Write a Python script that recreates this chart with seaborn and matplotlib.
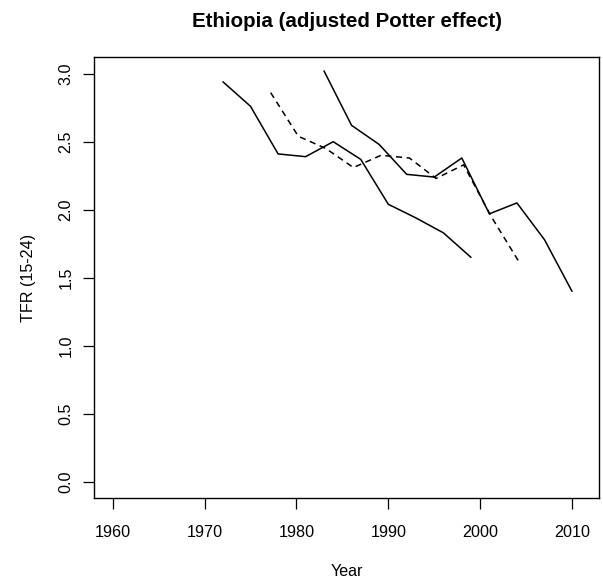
import matplotlib
matplotlib.use('Agg')
import matplotlib.pyplot as plt
import seaborn as sns
import pandas as pd

# Values
years_a = [1972, 1975, 1978, 1981, 1984, 1987, 1990, 1993, 1996, 1999]
tfr_a = [2.94, 2.76, 2.41, 2.39, 2.50, 2.37, 2.04, 1.94, 1.83, 1.65]

years_b = [1983, 1986, 1989, 1992, 1995, 1998, 2001, 2004, 2007, 2010]
tfr_b = [3.02, 2.62, 2.48, 2.26, 2.24, 2.38, 1.97, 2.05, 1.78, 1.40]

years_adj = [1977.2, 1980.2, 1983.2, 1986.2, 1989.2, 1992.3, 1995.2, 1998.2, 2001.2, 2004.2]
tfr_adj = [2.86, 2.54, 2.45, 2.31, 2.40, 2.38, 2.23, 2.33, 1.95, 1.62]

x_ticks = [1960, 1970, 1980, 1990, 2000, 2010]
y_ticks = [0.0, 0.5, 1.0, 1.5, 2.0, 2.5, 3.0]

df_a = pd.DataFrame({'year': years_a, 'tfr': tfr_a})
df_b = pd.DataFrame({'year': years_b, 'tfr': tfr_b})
df_adj = pd.DataFrame({'year': years_adj, 'tfr': tfr_adj})

sns.set_style('white')
plt.rcParams['font.family'] = ['Liberation Sans', 'DejaVu Sans']
plt.rcParams['text.color'] = 'black'
plt.rcParams['axes.labelcolor'] = 'black'
plt.rcParams['xtick.color'] = 'black'
plt.rcParams['ytick.color'] = 'black'

fig = plt.figure(figsize=(6.03, 5.86), dpi=100)
ax = fig.add_axes([0.1554, 0.1502, 0.8385, 0.752])

sns.lineplot(data=df_a, x='year', y='tfr', color='black', linewidth=1.1, ax=ax)
sns.lineplot(data=df_b, x='year', y='tfr', color='black', linewidth=1.1, ax=ax)
sns.lineplot(data=df_adj, x='year', y='tfr', color='black', linewidth=1.1,
             linestyle=(0, (4, 3)), ax=ax)

ax.set_xlim(1957.93, 2012.97)
ax.set_ylim(-0.118, 3.12)
ax.set_xticks(x_ticks)
ax.set_xticklabels([str(t) for t in x_ticks])
ax.set_yticks(y_ticks)
ax.set_yticklabels([f'{t:.1f}' for t in y_ticks], rotation=90, va='center')

ax.tick_params(axis='both', direction='out', length=7.7, width=0.9,
               color='black', labelsize=11.6, labelcolor='black',
               left=True, bottom=True)
ax.tick_params(axis='x', pad=12)
ax.tick_params(axis='y', pad=7)
for s in ax.spines.values():
    s.set_color('black')
    s.set_linewidth(1.0)

ax.set_xlabel('Year', fontsize=11.6, labelpad=17, color='black')
ax.set_ylabel('TFR (15-24)', fontsize=11.6, labelpad=16, color='black')
ax.set_title('Ethiopia (adjusted Potter effect)', fontsize=14.8,
             fontweight='bold', pad=22, color='black')

plt.savefig('out.png', dpi=100)
plt.close()
